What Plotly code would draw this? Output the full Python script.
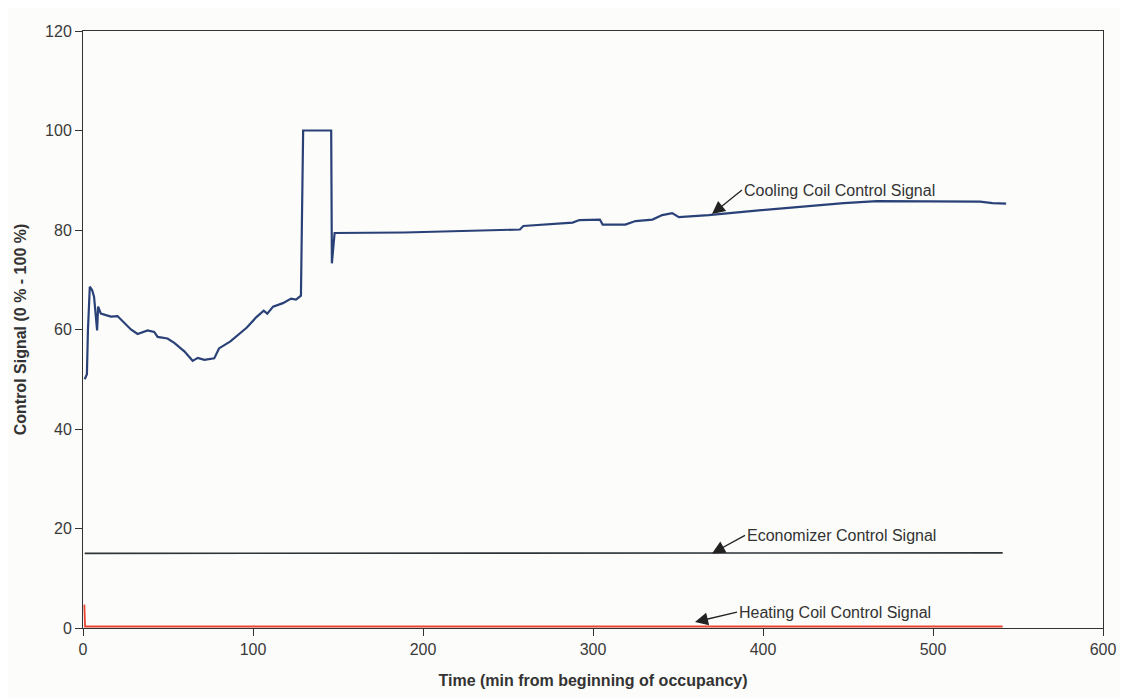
import plotly.graph_objects as go

# Cooling coil control signal (time in min, signal in %)
cool_t = [1, 2.3, 2.9, 4.0, 5.4, 6.5, 8.3, 8.9, 10.5, 16.4, 20.3, 28.2, 32.1, 38, 41.9,
          43.9, 49.7, 53.7, 59.6, 64.5, 67.5, 71.4, 77.2, 80, 86.7, 96.4, 102, 106.3,
          108.4, 111.8, 117.6, 122.4, 125.3, 128.2, 129.5, 146, 146.4, 148, 189, 257,
          259, 288, 292, 304, 305.7, 319, 325, 335, 340.7, 346.6, 350.5, 368, 399, 428,
          447.5, 467, 496.4, 516, 527.6, 535, 543]
cool_v = [50, 51, 59.8, 68.6, 67.9, 66.6, 59.8, 64.6, 63.2, 62.6, 62.7, 60.0, 59.1, 59.8,
          59.5, 58.5, 58.2, 57.3, 55.6, 53.7, 54.3, 53.9, 54.2, 56.2, 57.6, 60.4, 62.5,
          63.8, 63.2, 64.6, 65.3, 66.2, 66.0, 66.8, 100, 100, 73.3, 79.4, 79.5, 80.1,
          80.8, 81.5, 82.0, 82.1, 81.1, 81.1, 81.8, 82.1, 83.0, 83.4, 82.6, 83.0, 84.0,
          84.9, 85.4, 85.8, 85.8, 85.7, 85.7, 85.4, 85.3]

# Economizer control signal
econ_t = [1, 192, 541]
econ_v = [15.0, 15.0, 15.1]

# Heating coil control signal
heat_t = [0.8, 1.2, 541]
heat_v = [4.7, 0.3, 0.3]

x_ticks = [0, 100, 200, 300, 400, 500, 600]
y_ticks = [0, 20, 40, 60, 80, 100, 120]

fig = go.Figure()
fig.add_trace(go.Scatter(x=econ_t, y=econ_v, mode="lines",
                         line=dict(color="#2e3438", width=1.6), name="Economizer"))
fig.add_trace(go.Scatter(x=heat_t, y=heat_v, mode="lines",
                         line=dict(color="#e8452f", width=1.8), name="Heating"))
fig.add_trace(go.Scatter(x=cool_t, y=cool_v, mode="lines",
                         line=dict(color="#2a4178", width=2.2), name="Cooling"))

font_fam = "Liberation Sans, Arial, sans-serif"
ann_font = dict(family=font_fam, size=16, color="#333333")
arrow_kw = dict(showarrow=True, arrowhead=2, arrowsize=2, arrowwidth=1.3,
                arrowcolor="#222222", xanchor="left", yanchor="middle", font=ann_font)

fig.add_annotation(x=370, y=83.2, text="Cooling Coil Control Signal", ax=30, ay=-24, **arrow_kw)
fig.add_annotation(x=370, y=15.0, text="Economizer Control Signal", ax=33, ay=-18, **arrow_kw)
fig.add_annotation(x=360, y=1.2, text="Heating Coil Control Signal", ax=42, ay=-10, **arrow_kw)

axis_common = dict(showgrid=False, zeroline=False, showline=True, linecolor="#333333",
                   linewidth=1, mirror=True, ticks="outside", ticklen=7, tickcolor="#333333",
                   tickfont=dict(family=font_fam, size=16, color="#3a3a3a"),
                   layer="below traces")

fig.update_layout(
    width=1120, height=690,
    margin=dict(l=70, r=22, t=23, b=70),
    paper_bgcolor="#fcfcfa", plot_bgcolor="#fcfcfa",
    showlegend=False,
    xaxis=dict(range=[0, 600], tickvals=x_ticks,
               title=dict(text="<b>Time (min from beginning of occupancy)</b>",
                          font=dict(family=font_fam, size=16, color="#333333"), standoff=17),
               **axis_common),
    yaxis=dict(range=[0, 120], tickvals=y_ticks,
               title=dict(text="<b>Control Signal (0 % - 100 %)</b>",
                          font=dict(family=font_fam, size=16, color="#333333"), standoff=14),
               **axis_common),
)

fig.write_html("out.html")
